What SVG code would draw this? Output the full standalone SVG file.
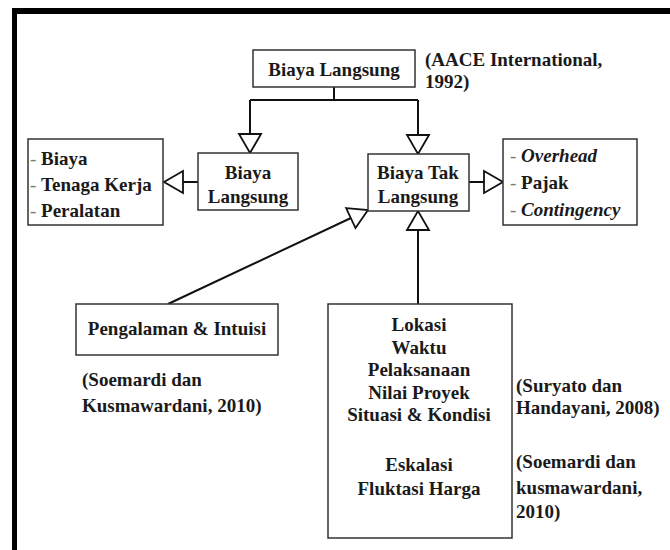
<svg xmlns="http://www.w3.org/2000/svg" width="670" height="550" viewBox="0 0 670 550">
<style>
.box{fill:#fff;stroke:#333;stroke-width:1.5}
.t{font-family:"Liberation Serif","Times New Roman",serif;font-weight:bold;font-size:19px;fill:#1a1a1a}
.c{text-anchor:middle}
.d{font-weight:normal;fill:#777}
.i{font-style:italic}
.ln{fill:none;stroke:#111;stroke-width:2}
</style>
<defs>
<marker id="tri" markerUnits="userSpaceOnUse" markerWidth="26" markerHeight="28" refX="20" refY="12" orient="auto" overflow="visible">
<path d="M1,1 L20,12 L1,23 Z" fill="#fff" stroke="#111" stroke-width="1.8" stroke-linejoin="miter"/>
</marker>
</defs>
<rect width="670" height="550" fill="#fff"/>
<g id="frame">
<rect x="12" y="8" width="658" height="6" fill="#000"/>
<rect x="12" y="8" width="5" height="542" fill="#000"/>
</g>
<g id="connectors">
<path class="ln" d="M334,87 V100 M250,100 H418"/>
<path class="ln" d="M250,100 V153" marker-end="url(#tri)"/>
<path class="ln" d="M418,100 V154" marker-end="url(#tri)"/>
<path class="ln" d="M198,182 H164" marker-end="url(#tri)"/>
<path class="ln" d="M469,182 H503" marker-end="url(#tri)"/>
<path class="ln" d="M168,304 L368,210" marker-end="url(#tri)"/>
<path class="ln" d="M418,304 V211" marker-end="url(#tri)"/>
</g>
<g id="biaya-langsung-top">
<rect class="box" x="253" y="50" width="162" height="37"/>
<text class="t c" x="334" y="76">Biaya Langsung</text>
</g>
<g id="cite-aace">
<text class="t" x="425" y="66">(AACE International,</text>
<text class="t" x="425" y="88">1992)</text>
</g>
<g id="biaya-langsung">
<rect class="box" x="198" y="153" width="100" height="57"/>
<text class="t c" x="248" y="179">Biaya</text>
<text class="t c" x="248" y="203">Langsung</text>
</g>
<g id="list-langsung">
<rect class="box" x="28" y="139" width="135" height="86"/>
<text class="t" x="30" y="165"><tspan class="d">- </tspan>Biaya</text>
<text class="t" x="30" y="191"><tspan class="d">- </tspan>Tenaga Kerja</text>
<text class="t" x="30" y="217"><tspan class="d">- </tspan>Peralatan</text>
</g>
<g id="biaya-tak-langsung">
<rect class="box" x="368" y="154" width="101" height="57"/>
<text class="t c" x="418" y="179">Biaya Tak</text>
<text class="t c" x="418" y="203">Langsung</text>
</g>
<g id="list-tak-langsung">
<rect class="box" x="503" y="139" width="134" height="86"/>
<text class="t" x="510" y="162"><tspan class="d">- </tspan><tspan class="i">Overhead</tspan></text>
<text class="t" x="510" y="189"><tspan class="d">- </tspan>Pajak</text>
<text class="t" x="510" y="216"><tspan class="d">- </tspan><tspan class="i">Contingency</tspan></text>
</g>
<g id="pengalaman">
<rect class="box" x="76" y="304" width="202" height="51"/>
<text class="t c" x="177" y="335">Pengalaman &amp; Intuisi</text>
</g>
<g id="cite-soemardi-1">
<text class="t" x="82" y="386">(Soemardi dan</text>
<text class="t" x="82" y="412">Kusmawardani, 2010)</text>
</g>
<g id="faktor">
<rect class="box" x="328" y="304" width="184" height="234"/>
<text class="t c" x="419" y="331">Lokasi</text>
<text class="t c" x="419" y="354">Waktu</text>
<text class="t c" x="419" y="376">Pelaksanaan</text>
<text class="t c" x="419" y="399">Nilai Proyek</text>
<text class="t c" x="419" y="421">Situasi &amp; Kondisi</text>
<text class="t c" x="419" y="471">Eskalasi</text>
<text class="t c" x="419" y="495">Fluktasi Harga</text>
</g>
<g id="cite-suryato">
<text class="t" x="516" y="392">(Suryato dan</text>
<text class="t" x="516" y="414">Handayani, 2008)</text>
</g>
<g id="cite-soemardi-2">
<text class="t" x="516" y="468">(Soemardi dan</text>
<text class="t" x="516" y="494">kusmawardani,</text>
<text class="t" x="516" y="518">2010)</text>
</g>
</svg>
